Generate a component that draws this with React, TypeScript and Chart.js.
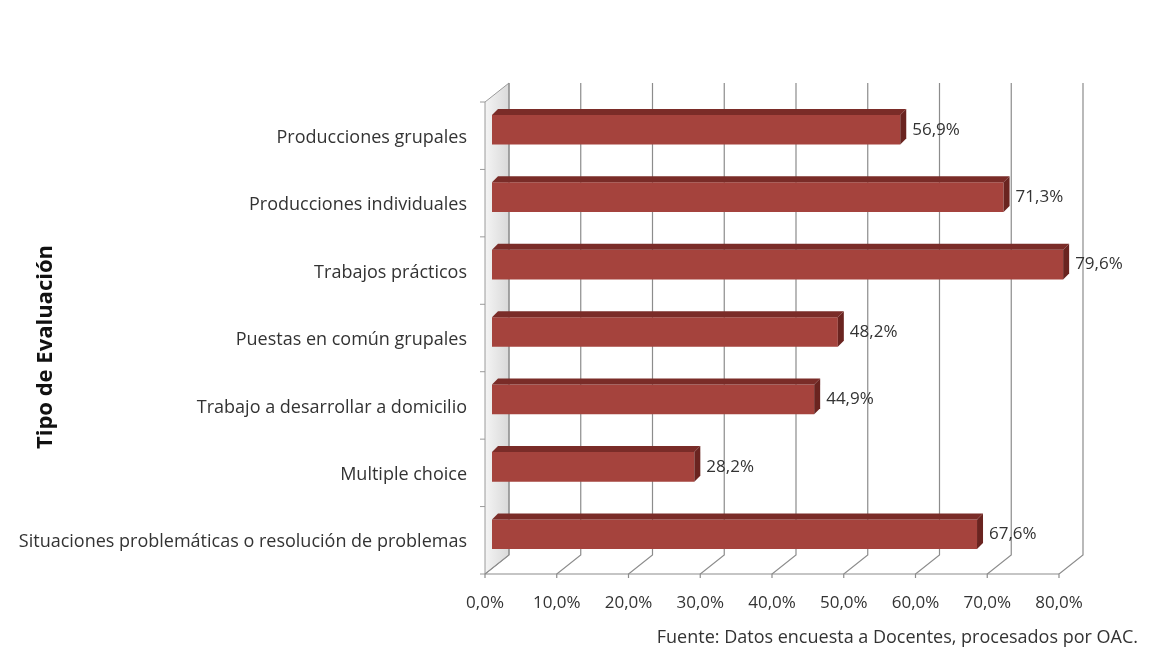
import React, { useEffect, useRef } from "react";
import { Chart, registerables } from "chart.js";

Chart.register(...registerables);

const categories = [
  "Producciones grupales",
  "Producciones individuales",
  "Trabajos prácticos",
  "Puestas en común grupales",
  "Trabajo a desarrollar a domicilio",
  "Multiple choice",
  "Situaciones problemáticas o resolución de problemas",
];
const values = [56.9, 71.3, 79.6, 48.2, 44.9, 28.2, 67.6];
const axisTitle = "Tipo de Evaluación";
const sourceNote = "Fuente: Datos encuesta a Docentes, procesados por OAC.";
const xMin = 0;
const xMax = 80;
const xStep = 10;

const FONT = "'Open Sans', 'DejaVu Sans', sans-serif";
const TEXT = "#333333";
const FACE = "#A5433D";
const TOPC = "#7A2C28";
const SIDE = "#6A2420";

const fmt = (v: number) => v.toFixed(1).replace(".", ",") + "%";

// 3D offsets
const BACK = { dx: 17, dy: -13 };
const FRONT = { dx: -7, dy: 6 };
const DEPTH = 6;

const decorPlugin = {
  id: "decor3d",
  beforeDatasetsDraw(chart: any) {
    const ctx = chart.ctx;
    const area = chart.chartArea;
    const xs = chart.scales.x;
    const ys = chart.scales.y;
    ctx.save();
    // left wall
    const x0 = xs.getPixelForValue(xMin);
    const grad = ctx.createLinearGradient(x0 + FRONT.dx, 0, x0 + BACK.dx, 0);
    grad.addColorStop(0, "#f4f4f4");
    grad.addColorStop(1, "#d9d9d9");
    ctx.beginPath();
    ctx.moveTo(x0 + FRONT.dx, area.top + FRONT.dy);
    ctx.lineTo(x0 + BACK.dx, area.top + BACK.dy);
    ctx.lineTo(x0 + BACK.dx, area.bottom + BACK.dy);
    ctx.lineTo(x0 + FRONT.dx, area.bottom + FRONT.dy);
    ctx.closePath();
    ctx.fillStyle = grad;
    ctx.fill();
    ctx.strokeStyle = "#9a9a9a";
    ctx.lineWidth = 1;
    ctx.stroke();
    // category ticks on left front edge
    const n = categories.length;
    const band = ys.getPixelForValue(1) - ys.getPixelForValue(0);
    for (let i = 0; i <= n; i++) {
      const y = i < n ? ys.getPixelForValue(i) - band / 2 : area.bottom;
      ctx.beginPath();
      ctx.moveTo(x0 + FRONT.dx - 5, y + FRONT.dy);
      ctx.lineTo(x0 + FRONT.dx, y + FRONT.dy);
      ctx.stroke();
    }
    // back grid lines + floor
    ctx.strokeStyle = "#8c8c8c";
    ctx.lineWidth = 1.2;
    for (let v = xMin; v <= xMax; v += xStep) {
      const px = xs.getPixelForValue(v);
      ctx.beginPath();
      ctx.moveTo(px + BACK.dx, area.top + BACK.dy);
      ctx.lineTo(px + BACK.dx, area.bottom + BACK.dy);
      ctx.lineTo(px + FRONT.dx, area.bottom + FRONT.dy);
      ctx.lineTo(px + FRONT.dx, area.bottom + FRONT.dy + 4);
      ctx.stroke();
    }
    ctx.beginPath();
    ctx.moveTo(xs.getPixelForValue(xMin) + FRONT.dx, area.bottom + FRONT.dy);
    ctx.lineTo(xs.getPixelForValue(xMax) + FRONT.dx, area.bottom + FRONT.dy);
    ctx.stroke();
    ctx.restore();
  },
  afterDatasetsDraw(chart: any) {
    const ctx = chart.ctx;
    const meta = chart.getDatasetMeta(0);
    ctx.save();
    meta.data.forEach((bar: any, i: number) => {
      const { x, y, base, height } = bar.getProps(["x", "y", "base", "height"], true);
      const top = y - height / 2;
      const bottom = y + height / 2;
      ctx.fillStyle = TOPC;
      ctx.beginPath();
      ctx.moveTo(base, top);
      ctx.lineTo(base + DEPTH, top - DEPTH);
      ctx.lineTo(x + DEPTH, top - DEPTH);
      ctx.lineTo(x, top);
      ctx.closePath();
      ctx.fill();
      ctx.fillStyle = SIDE;
      ctx.beginPath();
      ctx.moveTo(x, top);
      ctx.lineTo(x + DEPTH, top - DEPTH);
      ctx.lineTo(x + DEPTH, bottom - DEPTH);
      ctx.lineTo(x, bottom);
      ctx.closePath();
      ctx.fill();
      // label
      ctx.fillStyle = TEXT;
      ctx.font = `17px ${FONT}`;
      ctx.textAlign = "left";
      ctx.textBaseline = "middle";
      ctx.fillText(fmt(values[i]), x + DEPTH + 6, y);
    });
    // axis title
    ctx.save();
    ctx.translate(46, 347);
    ctx.rotate(-Math.PI / 2);
    ctx.font = `bold 22px ${FONT}`;
    ctx.fillStyle = "#111111";
    ctx.textAlign = "center";
    ctx.textBaseline = "middle";
    ctx.fillText(axisTitle, 0, 0);
    ctx.restore();
    // source
    ctx.font = `18px ${FONT}`;
    ctx.fillStyle = TEXT;
    ctx.textAlign = "right";
    ctx.textBaseline = "middle";
    ctx.fillText(sourceNote, 1138, 638);
    ctx.restore();
  },
};

export default function App() {
  const ref = useRef<HTMLCanvasElement | null>(null);
  useEffect(() => {
    if (!ref.current) return;
    const chart = new Chart(ref.current, {
      type: "bar",
      data: {
        labels: categories,
        datasets: [
          {
            data: values,
            backgroundColor: FACE,
            borderWidth: 0,
            barPercentage: 0.44,
            categoryPercentage: 1,
          },
        ],
      },
      options: {
        indexAxis: "y",
        animation: false,
        responsive: false,
        maintainAspectRatio: false,
        layout: { padding: { top: 96, right: 104, bottom: 0, left: 0 } },
        plugins: { legend: { display: false }, tooltip: { enabled: false } },
        scales: {
          x: {
            min: xMin,
            max: xMax,
            ticks: {
              stepSize: xStep,
              callback: (v: any) => fmt(Number(v)),
              color: TEXT,
              font: { family: FONT, size: 17 },
              padding: 25,
              labelOffset: -7,
              maxRotation: 0,
            },
            grid: { display: false, drawTicks: false },
            border: { display: false },
            afterFit: (s: any) => {
              s.height = 91;
            },
          },
          y: {
            ticks: {
              color: TEXT,
              font: { family: FONT, size: 18 },
              padding: 25,
              labelOffset: 8,
            },
            grid: { display: false, drawTicks: false },
            border: { display: false },
            afterFit: (s: any) => {
              s.width = 492;
            },
          },
        },
      },
      plugins: [decorPlugin],
    });
    return () => chart.destroy();
  }, []);
  return (
    <div style={{ position: "fixed", left: 0, top: 0, width: 1170, height: 659, background: "#fff" }}>
      <canvas ref={ref} width={1170} height={659} />
    </div>
  );
}
